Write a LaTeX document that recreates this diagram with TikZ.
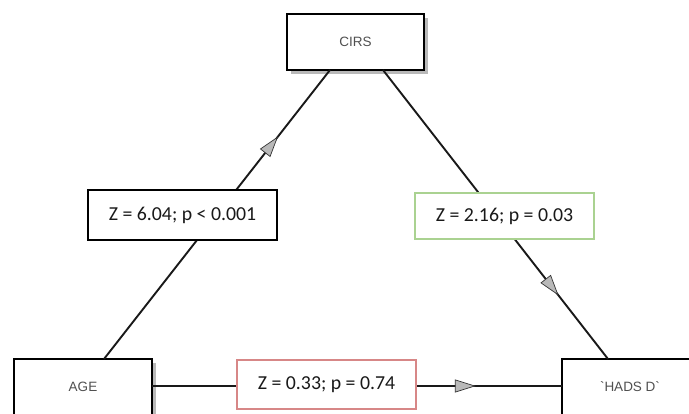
\documentclass[tikz,border=0pt]{standalone}
\usepackage{fontspec}
\setmainfont{Carlito}
\newfontfamily\boxfont{Liberation Sans}
\usetikzlibrary{arrows.meta,decorations.markings,shadows}
\definecolor{lgreen}{RGB}{170,210,145}
\definecolor{lred}{RGB}{215,135,135}
\definecolor{txtgray}{RGB}{80,80,80}
\tikzset{
  varbox/.style={draw=black, line width=2.2pt, fill=white, minimum width=137pt, inner sep=0pt,
    font=\boxfont\fontsize{13.5}{15}\selectfont, text=txtgray},
  varlbl/.style={font=\boxfont\fontsize{13.5}{15}\selectfont, text=txtgray},
  shad/.style={drop shadow={shadow xshift=4pt, shadow yshift=-4pt, fill=gray!55, opacity=1}},
  statbox/.style={draw, line width=1.3pt, fill=white, inner sep=0pt, font=\fontsize{19.8}{22}\selectfont, text=black!90},
  conn/.style={line width=1.9pt, black!90},
  midarrow/.style={postaction={decorate, decoration={markings,
      mark=at position #1 with {\arrow{Triangle[length=21pt,width=13pt,fill=gray!55,color=black!80,line width=0.7pt]}}}}}
}
\begin{document}
\begin{tikzpicture}[x=1pt,y=-1pt]
\useasboundingbox (0,0) rectangle (689,414);
\clip (0,0) rectangle (689,414);
\node[varbox, shad, minimum height=56pt] (cirs) at (355.5,42) {CIRS};
\node[varbox, shad, minimum width=138pt, minimum height=64pt] (age) at (83,391) {};
\node[varbox, minimum width=138pt, minimum height=64pt] (hads) at (631,391) {};
\node[varlbl] (agelbl) at (83,387) {AGE};
\node[varlbl] (hadslbl) at (630,387) {\textasciigrave HADS D\textasciigrave};
\coordinate (ageTop) at (104,359);
\coordinate (cirsBL) at (330,70);
\coordinate (cirsBR) at (383,70);
\coordinate (hadsTop) at (608,359);
\coordinate (ageR) at (152,386);
\coordinate (hadsL) at (562,386);
\draw[conn, midarrow=0.77] (ageTop) -- (cirsBL);
\draw[conn, midarrow=0.78] (cirsBR) -- (hadsTop);
\draw[conn, midarrow=0.79] (ageR) -- (hadsL);
\node[statbox, draw=black, minimum width=189pt, minimum height=50pt] (s1) at (182.5,215) {Z = 6.04; p < 0.001};
\node[statbox, draw=lgreen, minimum width=179pt, minimum height=46pt] (s2) at (504.5,216) {Z = 2.16; p = 0.03};
\node[statbox, draw=lred, minimum width=179pt, minimum height=49pt] (s3) at (326.5,384.5) {Z = 0.33; p = 0.74};
\end{tikzpicture}
\end{document}
